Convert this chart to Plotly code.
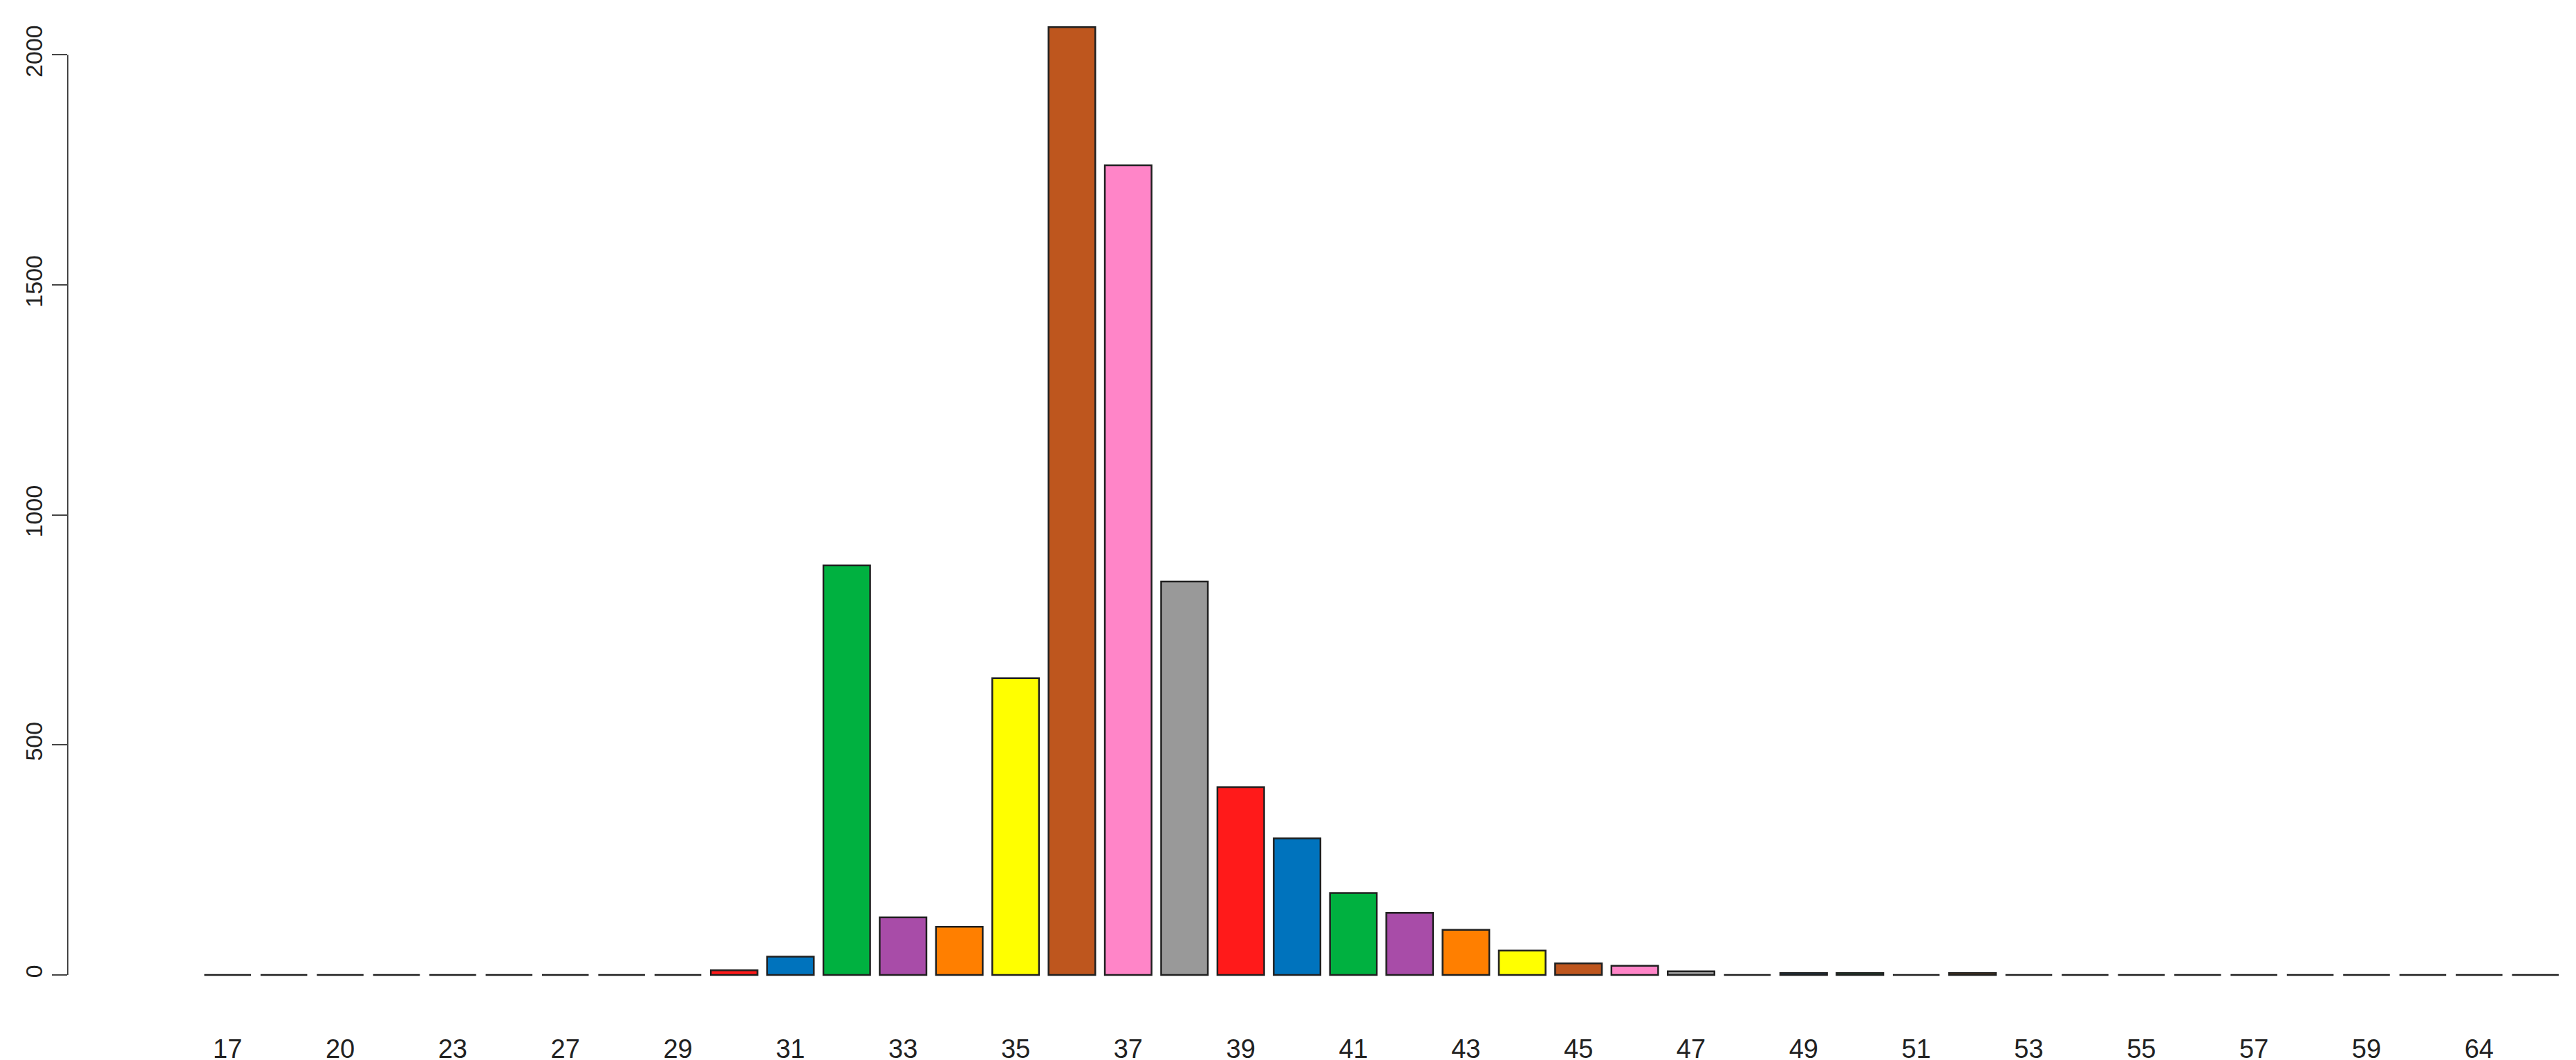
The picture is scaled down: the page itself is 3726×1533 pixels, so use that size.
import plotly.graph_objects as go

categories = ["17","18","20","21","23","25","27","28","29","30","31","32","33","34","35","36","37","38","39","40",
              "41","42","43","44","45","46","47","48","49","50","51","52","53","54","55","56","57","58","59","60","64","65"]
values = [0,0,0,0,0,0,0,0,0,10,40,890,125,105,645,2060,1760,855,408,297,
          178,135,98,53,25,20,8,0,4,4,0,4,0,0,0,0,0,0,0,0,0,0]
palette = ["#FF1A1A","#0073BD","#00B140","#A84CA8","#FF7F00","#FFFF00","#BE561E","#FF85C8","#999999"]
tick_labels = categories[::2]
y_ticks = [0,500,1000,1500,2000]

colors = [palette[i % 9] for i in range(len(categories))]

fig = go.Figure(go.Bar(x=categories, y=values, marker=dict(color=colors, line=dict(color="#202020", width=2.5)), width=0.83))
fig.update_layout(
    width=3726, height=1533, paper_bgcolor="white", plot_bgcolor="white",
    margin=dict(l=90, r=0, t=20, b=100), showlegend=False,
    font=dict(family="Liberation Sans", size=38, color="#222222"),
)
fig.update_xaxes(type="category", range=[-2.84, 41.82], tickvals=tick_labels, ticktext=tick_labels,
                 showline=False, showgrid=False, ticks="", ticklabelstandoff=50, zeroline=False)
fig.update_yaxes(range=[-46.6, 2077], tickvals=y_ticks, tickangle=-90, showgrid=False, zeroline=False,
                 showline=False, ticks="outside", ticklen=22, tickwidth=2, tickcolor="#444",
                 tickfont=dict(size=34))
fig.add_shape(type="line", xref="paper", yref="y", x0=0, x1=0, y0=y_ticks[0], y1=y_ticks[-1],
              line=dict(color="#444", width=2))
fig.write_html("out.html")
